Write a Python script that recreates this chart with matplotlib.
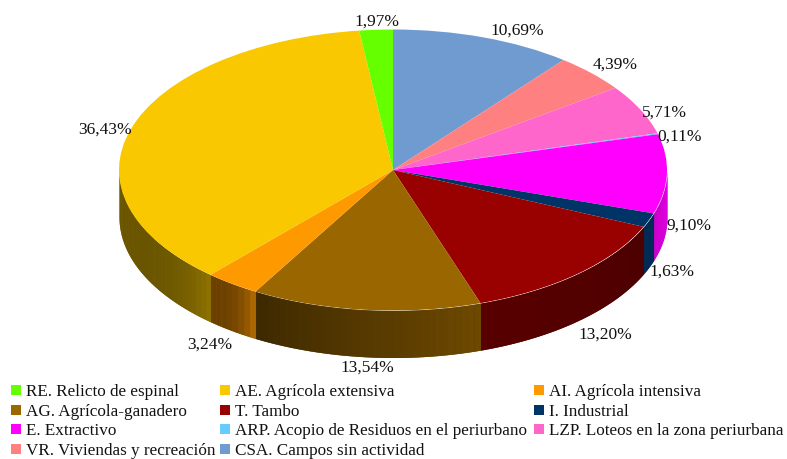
import matplotlib
matplotlib.use("Agg")
import matplotlib.pyplot as plt
from matplotlib.colors import to_rgb
from matplotlib.patches import Rectangle
import numpy as np

plt.rcParams['font.family'] = ['Liberation Serif', 'DejaVu Serif']

W, H = 787, 460

# clockwise from 12 o'clock
names = ["CSA. Campos sin actividad", "VR. Viviendas y recreación", "LZP. Loteos en la zona periurbana",
         "ARP. Acopio de Residuos en el periurbano", "E. Extractivo", "I. Industrial", "T. Tambo",
         "AG. Agrícola-ganadero", "AI. Agrícola intensiva", "AE. Agrícola extensiva", "RE. Relicto de espinal"]
values = [10.69, 4.39, 5.71, 0.11, 9.10, 1.63, 13.20, 13.54, 3.24, 36.43, 1.97]
colors = ["#6f9bd0", "#ff8080", "#ff66cc", "#66ccff", "#ff00ff", "#003366", "#990000",
          "#996600", "#ff9900", "#f9c800", "#66ff00"]
labels = ["10,69%", "4,39%", "5,71%", "0,11%", "9,10%", "1,63%", "13,20%", "13,54%", "3,24%", "36,43%", "1,97%"]

# label centres in pixels
label_x = [517, 615, 664, 680, 689, 672, 605, 367, 210, 105, 377]
label_y = [31, 65, 113, 137, 226, 272, 335, 368, 345, 130, 22]

# side wall shading at the left and right end on screen
wall_left = {"E. Extractivo": 0.80, "I. Industrial": 0.85, "T. Tambo": 0.58,
             "AG. Agrícola-ganadero": 0.40, "AI. Agrícola intensiva": 0.42, "AE. Agrícola extensiva": 0.42}
wall_right = {"E. Extractivo": 0.90, "I. Industrial": 0.85, "T. Tambo": 0.50,
              "AG. Agrícola-ganadero": 0.72, "AI. Agrícola intensiva": 0.72, "AE. Agrícola extensiva": 0.58}

legend_names = ["RE. Relicto de espinal", "AE. Agrícola extensiva", "AI. Agrícola intensiva",
                "AG. Agrícola-ganadero", "T. Tambo", "I. Industrial",
                "E. Extractivo", "ARP. Acopio de Residuos en el periurbano", "LZP. Loteos en la zona periurbana",
                "VR. Viviendas y recreación", "CSA. Campos sin actividad"]
legend_cols = [11, 220, 534]
legend_rows = [391, 411, 430, 450]

# pie centre and radii in pixels
cx, cy, rx, ry = 393, 171, 274, 140.5
depth = 47 / ry

fig = plt.figure(figsize=(W / 100, H / 100), dpi=100)
ax = fig.add_axes([(cx - rx * 1.25) / W, (H - cy - ry * 1.25) / H, rx * 2.5 / W, ry * 2.5 / H])

ax.pie(values, colors=colors, startangle=90, counterclock=False, wedgeprops={'linewidth': 0, 'zorder': 5})
ax.set_aspect('auto')

# side walls, cut in strips to fake the gradient
start = 0
for name, val, col in zip(names, values, colors):
    a0 = start / sum(values) * 2 * np.pi
    a1 = (start + val) / sum(values) * 2 * np.pi
    start += val
    if name not in wall_left:
        continue
    a0 = max(a0, np.pi / 2)
    a1 = min(a1, 3 * np.pi / 2)
    base = np.array(to_rgb(col))
    n = max(int((a1 - a0) * 40), 2)
    edges = np.linspace(a0, a1, n + 1)

    # solid wall below so the seams between strips do not show
    t = np.linspace(a0, a1, 100)
    mid = (wall_left[name] + wall_right[name]) / 2
    ax.fill_between(np.sin(t), np.cos(t), np.cos(t) - depth, color=base * mid, lw=0, clip_on=False, zorder=2)

    for i in range(n):
        # a1 is the left end on screen
        frac = 1 - (i + 0.5) / n
        if name == "AE. Agrícola extensiva":
            frac = frac ** 6
        elif name == "AI. Agrícola intensiva":
            frac = frac ** 3
        shade = wall_left[name] + (wall_right[name] - wall_left[name]) * frac
        t = np.linspace(edges[i], edges[i + 1], 6)
        ax.fill_between(np.sin(t), np.cos(t), np.cos(t) - depth, color=base * shade, lw=0, clip_on=False, zorder=3)

# overlay in pixel coordinates for the texts and the legend
ov = fig.add_axes([0, 0, 1, 1])
ov.set_xlim(0, W)
ov.set_ylim(H, 0)
ov.axis('off')
ov.patch.set_alpha(0)

for x, y, s in zip(label_x, label_y, labels):
    ov.text(x, y, s, ha='center', va='center', fontsize=12.5, color='#111111')

color_of = dict(zip(names, colors))
for i, s in enumerate(legend_names):
    x = legend_cols[i % 3]
    y = legend_rows[i // 3]
    ov.add_patch(Rectangle((x, y - 5), 10, 10, facecolor=color_of[s], edgecolor='none'))
    ov.text(x + 15, y + 1, s, ha='left', va='center', fontsize=12.3, color='#111111')

fig.savefig("out.png", dpi=100)
